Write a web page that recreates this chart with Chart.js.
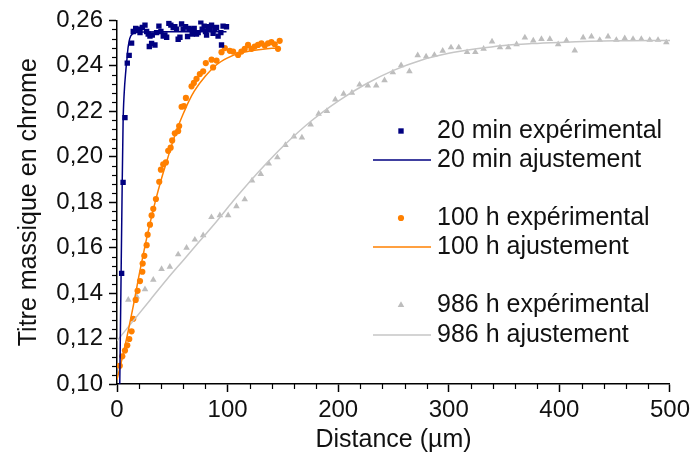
<!DOCTYPE html>
<html>
<head>
<meta charset="utf-8">
<script src="https://cdn.jsdelivr.net/npm/chart.js@4.4.1/dist/chart.umd.min.js"></script>
<style>
  body { margin: 0; background: #fff; }
  #wrap { width: 694px; height: 468px; }
</style>
</head>
<body>
<div id="wrap"><canvas id="chart" width="694" height="468"></canvas></div>
<script>
// 20 min - experimental points
const minX = [4.2, 5.5, 7.2, 9.3, 11.0, 13.2, 14.7, 16.9, 19.2, 20.8, 22.9, 25.3, 26.8, 28.2, 29.2, 29.8, 31.3, 31.9, 34.3, 35.8, 37.9, 39.7, 41.8, 43.3, 44.9, 46.9, 48.7, 50.8, 52.3, 53.9, 55.3, 56.9, 58.4, 59.8, 62.0, 63.8, 65.0, 66.8, 68.0, 69.8, 71.9, 73.4, 75.8, 77.0, 78.8, 80.0, 81.0, 82.4, 83.9, 85.5, 86.9, 88.4, 90.0, 91.4, 93.9, 94.5, 95.9, 99.0];
const minY = [0.1487, 0.1887, 0.2172, 0.2412, 0.2446, 0.2500, 0.2551, 0.2565, 0.2561, 0.2546, 0.2569, 0.2579, 0.2551, 0.2540, 0.2485, 0.2531, 0.2499, 0.2536, 0.2492, 0.2546, 0.2575, 0.2551, 0.2531, 0.2536, 0.2526, 0.2587, 0.2579, 0.2569, 0.2572, 0.2561, 0.2517, 0.2526, 0.2584, 0.2561, 0.2572, 0.2529, 0.2565, 0.2561, 0.2540, 0.2565, 0.2540, 0.2546, 0.2594, 0.2561, 0.2575, 0.2551, 0.2536, 0.2572, 0.2565, 0.2579, 0.2543, 0.2561, 0.2569, 0.2531, 0.2546, 0.2492, 0.2575, 0.2572];
// 20 min - fit
const minFitX = [2.5, 3.5, 4.5, 5.5, 6.5, 8, 9, 10, 11.5, 14, 20, 40, 70, 99];
const minFitY = [0.100, 0.140, 0.180, 0.215, 0.228, 0.238, 0.243, 0.248, 0.252, 0.2540, 0.2548, 0.2550, 0.2550, 0.2550];

// 100 h - experimental points
const hX = [2.5, 4.8, 7.2, 9.3, 11.1, 13.2, 14.7, 16.9, 18.6, 20.8, 22.9, 23.2, 24.7, 26.8, 27.7, 29.8, 31.3, 32.8, 35.2, 38.2, 39.7, 41.8, 44.2, 46.3, 48.5, 49.9, 52.3, 55.3, 56.2, 58.4, 60.5, 62.3, 67.4, 69.5, 71.9, 74.9, 77.9, 80.3, 85.5, 86.9, 90.0, 94.5, 97.5, 102.0, 105.0, 109.5, 112.5, 115.5, 118.5, 121.6, 124.5, 127.5, 130.6, 133.6, 136.6, 139.6, 142.6, 145.6, 147.1];
const hY = [0.1080, 0.1122, 0.1147, 0.1170, 0.1198, 0.1232, 0.1287, 0.1370, 0.1410, 0.1453, 0.1494, 0.1530, 0.1564, 0.1611, 0.1657, 0.1701, 0.1742, 0.1771, 0.1814, 0.1890, 0.1943, 0.1967, 0.1975, 0.2026, 0.2040, 0.2072, 0.2103, 0.2113, 0.2135, 0.2220, 0.2223, 0.2259, 0.2310, 0.2325, 0.2343, 0.2364, 0.2376, 0.2412, 0.2427, 0.2393, 0.2423, 0.2460, 0.2478, 0.2466, 0.2463, 0.2448, 0.2463, 0.2475, 0.2492, 0.2475, 0.2485, 0.2492, 0.2499, 0.2489, 0.2499, 0.2504, 0.2495, 0.2475, 0.2510];
// 100 h - fit
const hFitX = [0, 5, 10, 15, 20, 25, 30, 35, 40, 45, 50, 55, 60, 65, 70, 80, 90, 100, 110, 120, 130, 140, 147];
const hFitY = [0.102, 0.112, 0.123, 0.135, 0.148, 0.160, 0.171, 0.181, 0.190, 0.198, 0.206, 0.213, 0.219, 0.2245, 0.229, 0.2355, 0.2405, 0.2435, 0.2455, 0.2465, 0.2472, 0.2477, 0.2478];

// 986 h - experimental points
const dX = [10.2, 17.8, 25.3, 32.8, 40.3, 47.8, 55.3, 62.9, 70.4, 77.9, 85.4, 93.0, 100.5, 108.0, 115.5, 122.1, 130.0, 137.2, 145.0, 152.3, 160.0, 167.2, 175.1, 182.3, 189.8, 197.4, 204.9, 212.4, 219.3, 226.8, 234.4, 241.9, 249.4, 256.9, 264.4, 271.9, 279.5, 287.0, 294.5, 302.0, 309.0, 316.5, 324.0, 331.5, 339.1, 346.3, 353.8, 361.3, 368.8, 376.4, 383.8, 391.4, 398.9, 406.4, 413.9, 421.5, 429.0, 436.5, 444.0, 451.5, 459.1, 466.6, 474.1, 481.7, 489.2, 496.7];
const dY = [0.1370, 0.1385, 0.1417, 0.1458, 0.1506, 0.1516, 0.1570, 0.1599, 0.1635, 0.1654, 0.1734, 0.1742, 0.1742, 0.1782, 0.1812, 0.1895, 0.1924, 0.1970, 0.1997, 0.2051, 0.2089, 0.2084, 0.2142, 0.2189, 0.2201, 0.2252, 0.2277, 0.2281, 0.2317, 0.2313, 0.2313, 0.2336, 0.2371, 0.2402, 0.2376, 0.2446, 0.2441, 0.2448, 0.2466, 0.2481, 0.2481, 0.2460, 0.2460, 0.2475, 0.2507, 0.2481, 0.2481, 0.2495, 0.2524, 0.2511, 0.2518, 0.2518, 0.2495, 0.2511, 0.2467, 0.2524, 0.2529, 0.2514, 0.2529, 0.2514, 0.2521, 0.2518, 0.2518, 0.2514, 0.2514, 0.2503];
// 986 h - fit
const dFitX = [0, 15, 30, 45, 60, 75, 90, 105, 120, 135, 150, 175, 200, 225, 250, 275, 300, 325, 350, 375, 400, 450, 500];
const dFitY = [0.119, 0.128, 0.137, 0.146, 0.1545, 0.163, 0.1715, 0.1805, 0.189, 0.197, 0.2045, 0.2155, 0.2245, 0.232, 0.238, 0.2425, 0.2455, 0.2475, 0.249, 0.2498, 0.2503, 0.251, 0.2512];

const xTicks = [0, 100, 200, 300, 400, 500];
const yTicks = [0.10, 0.12, 0.14, 0.16, 0.18, 0.20, 0.22, 0.24, 0.26];
const yTickLabels = ['0,10', '0,12', '0,14', '0,16', '0,18', '0,20', '0,22', '0,24', '0,26'];

const seriesNames = ['20 min expérimental', '20 min ajustement', '100 h expérimental', '100 h ajustement', '986 h expérimental', '986 h ajustement'];

const BLUE = '#000080';
const ORANGE = '#ff8000';
const GREY = '#bdbdbd';
const FONT = '"Liberation Sans", Arial, sans-serif';

function pts(xs, ys) { return xs.map((x, i) => ({ x: x, y: ys[i] })); }

function pointSet(label, xs, ys, color, style, r) {
    return { label, data: pts(xs, ys), showLine: false, pointStyle: style, pointRadius: r,
        backgroundColor: color, borderColor: color, pointBorderWidth: 0, order: 2 };
}
function fitSet(label, xs, ys, color) {
    return { label, data: pts(xs, ys), showLine: true, pointRadius: 0, borderColor: color,
        backgroundColor: color, borderWidth: 1.5, cubicInterpolationMode: 'monotone', order: 1 };
}

// minor ticks, outward
const minorTicks = {
    id: 'minorTicks',
    afterDraw(chart) {
        const { ctx, scales: { x, y } } = chart;
        ctx.save();
        ctx.strokeStyle = '#000';
        ctx.lineWidth = 1.2;
        for (let v = 0; v <= 500; v += 20) {
            if (v % 100 === 0) continue;
            const px = Math.round(x.getPixelForValue(v)) + 0.5;
            ctx.beginPath(); ctx.moveTo(px, y.bottom); ctx.lineTo(px, y.bottom + 5); ctx.stroke();
        }
        for (let i = 0; i <= 40; i++) {
            if (i % 5 === 0) continue;
            const py = Math.round(y.getPixelForValue(0.10 + i * 0.004)) + 0.5;
            ctx.beginPath(); ctx.moveTo(x.left, py); ctx.lineTo(x.left - 5, py); ctx.stroke();
        }
        ctx.restore();
    }
};

// legend inside the plot, right side
const sideLegend = {
    id: 'sideLegend',
    afterDraw(chart) {
        const { ctx } = chart;
        const rows = [131, 160, 218, 247, 305, 335];
        ctx.save();
        ctx.font = '25px ' + FONT;
        ctx.textBaseline = 'middle';
        ctx.textAlign = 'left';
        chart.data.datasets.forEach((ds, i) => {
            const yy = rows[i];
            if (ds.showLine) {
                ctx.strokeStyle = ds.borderColor;
                ctx.lineWidth = 1.5;
                ctx.beginPath(); ctx.moveTo(373, yy); ctx.lineTo(431, yy); ctx.stroke();
            } else {
                ctx.fillStyle = ds.backgroundColor;
                ctx.strokeStyle = ds.backgroundColor;
                Chart.helpers.drawPoint(ctx, { pointStyle: ds.pointStyle, radius: ds.pointRadius, rotation: 0, borderWidth: 0 }, 401, yy);
            }
            ctx.fillStyle = '#111';
            ctx.fillText(ds.label, 437, yy);
        });
        ctx.restore();
    }
};

const ctx = document.getElementById('chart').getContext('2d');
new Chart(ctx, {
    type: 'scatter',
    data: {
        datasets: [
            pointSet(seriesNames[0], minX, minY, BLUE, 'rect', 3.8),
            fitSet(seriesNames[1], minFitX, minFitY, BLUE),
            pointSet(seriesNames[2], hX, hY, ORANGE, 'circle', 3.1),
            fitSet(seriesNames[3], hFitX, hFitY, ORANGE),
            pointSet(seriesNames[4], dX, dY, GREY, 'triangle', 3.8),
            fitSet(seriesNames[5], dFitX, dFitY, '#c6c6c6')
        ]
    },
    options: {
        responsive: false,
        devicePixelRatio: 1,
        animation: false,
        layout: { padding: { top: 17, right: 23, bottom: 0, left: 0 } },
        plugins: { legend: { display: false }, tooltip: { enabled: false } },
        scales: {
            x: {
                type: 'linear', min: 0, max: 500,
                afterBuildTicks: s => { s.ticks = xTicks.map(v => ({ value: v })); },
                afterFit: s => { s.height = 468 - 384; },
                ticks: { font: { size: 24, family: FONT }, color: '#111', padding: 4, maxRotation: 0 },
                grid: { drawOnChartArea: false, drawTicks: true, tickLength: 8, tickColor: '#000', tickWidth: 1.5 },
                border: { display: true, color: '#000', width: 1.5 },
                title: { display: true, text: 'Distance (µm)', font: { size: 25, family: FONT }, color: '#111', padding: { top: 0, bottom: 13 } }
            },
            y: {
                type: 'linear', min: 0.10, max: 0.26,
                afterBuildTicks: s => { s.ticks = yTicks.map(v => ({ value: v })); },
                afterFit: s => { s.width = 117; },
                ticks: {
                    font: { size: 24, family: FONT }, color: '#111', padding: 6,
                    callback: v => yTickLabels[yTicks.findIndex(t => Math.abs(t - v) < 1e-6)]
                },
                grid: { drawOnChartArea: false, drawTicks: true, tickLength: 8, tickColor: '#000', tickWidth: 1.5 },
                border: { display: true, color: '#000', width: 1.5 },
                title: { display: true, text: 'Titre massique en chrome', font: { size: 25, family: FONT }, color: '#111', padding: { top: 14, bottom: 0 } }
            }
        }
    },
    plugins: [minorTicks, sideLegend]
});
</script>
</body>
</html>
